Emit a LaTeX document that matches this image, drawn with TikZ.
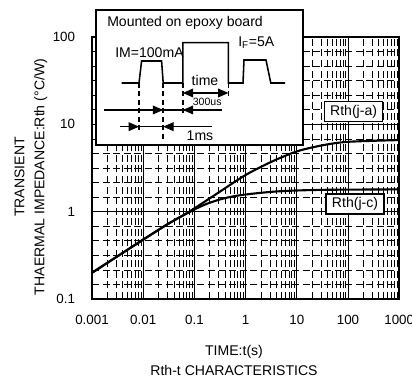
\documentclass[tikz,border=0pt]{standalone}
\usepackage{fontspec}
\setmainfont{Liberation Sans}
\usetikzlibrary{arrows.meta}

\tikzset{
  frame/.style={black,line width=1.4pt},
  gridmajor/.style={black,line width=0.6pt},
  gridminor/.style={black,line width=0.5pt,dash pattern=on 5pt off 2.5pt},
  curve/.style={black,line width=1.5pt},
  wave/.style={black,line width=1.1pt},
  marker/.style={black,line width=1pt,dash pattern=on 3.5pt off 2.5pt},
  dimline/.style={black,line width=0.8pt},
  dimarrow/.style={black,line width=0.8pt,-{Triangle[length=0.26cm,width=0.22cm]}},
  dimboth/.style={black,line width=0.8pt,{Triangle[length=0.26cm,width=0.22cm]}-{Triangle[length=0.26cm,width=0.22cm]}},
  legendbox/.style={draw=black,line width=0.9pt,fill=white,minimum width=1.45cm,minimum height=0.5cm,inner sep=1pt},
  ticklabel/.style={font=\fontsize{9.5}{11}\selectfont},
  plain/.style={inner sep=0pt},
}

\begin{document}
\begin{tikzpicture}[font=\fontsize{10}{12}\selectfont]
\useasboundingbox (0,0) rectangle (10.3,9.45);

\begin{scope}[shift={(2.3,1.975)},x=1.28cm,y=2.183cm]
\foreach \d in {0,...,5}
  \foreach \k in {2,...,9}
    \draw[gridminor] ({\d+log10(\k)},0) -- ({\d+log10(\k)},3);
\foreach \d in {0,1,2}
  \foreach \k in {1,...,5}
    \draw[gridminor] (0,{\d+\k/6}) -- (6,{\d+\k/6});
\foreach \d in {1,...,5}
  \draw[gridmajor] (\d,0) -- (\d,3);
\foreach \d in {1,2}
  \draw[gridmajor] (0,\d) -- (6,\d);
\draw[frame] (0,0) rectangle (6,3);

\draw[curve] plot[smooth] coordinates {(0,0.30) (1,0.68) (1.5,0.865) (1.9,1.0) (2.5,1.23) (3,1.42) (3.5,1.57) (4,1.69) (4.5,1.76) (5,1.80) (6,1.82)};
\draw[curve] plot[smooth] coordinates {(0,0.30) (1,0.68) (1.5,0.865) (1.9,0.995) (2.2,1.08) (2.5,1.14) (2.8,1.18) (3.2,1.21) (3.7,1.235) (4.5,1.25) (6,1.255)};

\foreach \v/\lab in {0/0.001,1/0.01,2/0.1,3/1,4/10,5/100,6/1000}
  \node[ticklabel] (xt\v) at (\v,-0.24) {\lab};
\foreach \v/\lab in {0/0.1,1/1,2/10,3/100}
  \node[ticklabel,anchor=east] (yt\v) at (-0.234,\v) {\lab};
\end{scope}

\node[legendbox] (rja) at (8.84,6.66) {Rth(j-a)};
\node[legendbox] (rjc) at (8.875,4.35) {Rth(j-c)};

\node[align=center,rotate=90,font=\fontsize{10}{14.2}\selectfont] (ylabel) at (0.775,5.025) {TRANSIENT\\THAERMAL IMPEDANCE:Rth (°C/W)};
\node (xlabel) at (5.85,0.65) {TIME:t(s)};
\node (caption) at (5.85,0.2) {Rth-t CHARACTERISTICS};

\draw[black,line width=0.9pt,fill=white] (2.4,5.825) rectangle (7.575,9.2);
\node[plain,anchor=west] (mount) at (2.675,8.875) {Mounted on epoxy board};
\node[plain,anchor=west] (im) at (2.875,8.125) {IM=100mA};
\node[plain,anchor=west] (if) at (5.95,8.375) {I\textsubscript{F}=5A};

\coordinate (e1) at (3.475,7.375);
\coordinate (e2) at (4.08,7.375);
\coordinate (e3) at (4.57,7.375);
\coordinate (e4) at (5.71,7.375);

\draw[wave] (3.04,7.375) -- (e1) -- (3.54,7.925) -- (4.04,7.925) -- (e2) -- (e3) -- (4.57,8.383) -- (5.71,8.383) -- (e4) -- (6.075,7.375) -- (6.1,7.95) -- (6.65,7.95) -- (6.77,7.375) -- (7.125,7.375);

\draw[marker] (e1) -- (3.475,6.125);
\draw[marker] (e2) -- (4.08,5.95);
\draw[marker] (e3) -- (4.57,6.575);
\draw[marker] (e4) -- (5.71,7.0);

\draw[dimboth] (4.57,7.125) -- (5.71,7.125);
\node (time) at (5.125,7.44) {time};
\node[font=\fontsize{7.5}{9}\selectfont] (dur) at (5.18,6.9) {300us};

\draw[dimline] (2.6,6.7) -- (5.55,6.7);
\draw[dimarrow] (3.7,6.7) -- (4.08,6.7);
\draw[dimarrow] (4.95,6.7) -- (4.57,6.7);

\draw[dimline] (3.0,6.283) -- (5.29,6.283);
\draw[dimarrow] (3.1,6.283) -- (3.475,6.283);
\draw[dimarrow] (4.45,6.283) -- (4.08,6.283);
\node (period) at (5.0,6.05) {1ms};

\end{tikzpicture}
\end{document}
